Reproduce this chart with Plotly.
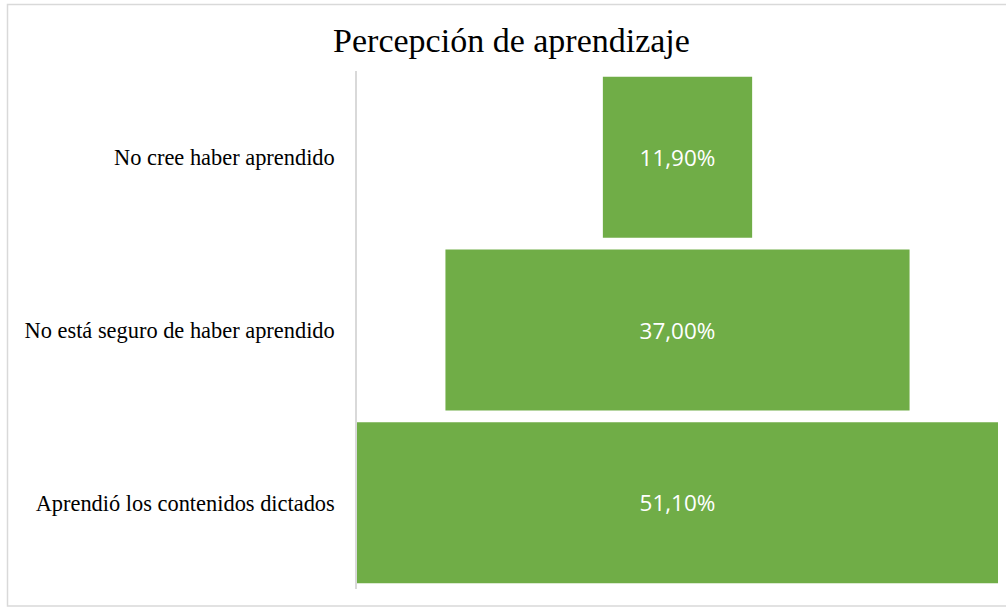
import plotly.graph_objects as go

# Funnel stages (top to bottom) and their shares in percent
categories = [
    "No cree haber aprendido",
    "No está seguro de haber aprendido",
    "Aprendió los contenidos dictados",
]
shares = [11.9, 37.0, 51.1]
share_labels = [f"{v:.2f}%".replace(".", ",") for v in shares]

GREEN = "#70AD47"
half = max(shares) / 2

fig = go.Figure(
    go.Funnel(
        y=categories,
        x=shares,
        text=share_labels,
        textinfo="text",
        textposition="inside",
        insidetextanchor="middle",
        textfont=dict(family="Open Sans", size=22.5, color="#FFFFFF"),
        marker=dict(color=GREEN, line=dict(width=0)),
        connector=dict(visible=False),
        hoverinfo="y+text",
    )
)

W, H = 1006, 607
L, R, T, B = 357, 8, 71, 18
pw, ph = W - L - R, H - T - B

fig.update_layout(
    width=W,
    height=H,
    margin=dict(l=L, r=R, t=T, b=B),
    paper_bgcolor="white",
    plot_bgcolor="white",
    funnelgap=0.068,
    showlegend=False,
    title=dict(
        text="Percepción de aprendizaje",
        font=dict(family="Liberation Serif", size=34, color="#000000"),
        xref="container",
        yref="container",
        x=511.5 / W,
        y=1 - 40 / H,
        xanchor="center",
        yanchor="middle",
    ),
    xaxis=dict(
        range=[-half, half],
        visible=False,
        showgrid=False,
        zeroline=False,
        fixedrange=True,
    ),
    yaxis=dict(
        showline=True,
        linecolor="#D9D9D9",
        linewidth=1.5,
        ticks="outside",
        ticklen=16,
        tickcolor="rgba(0,0,0,0)",
        tickfont=dict(family="Liberation Serif", size=22.4, color="#000000"),
        showgrid=False,
        zeroline=False,
    ),
    shapes=[
        # light outer frame of the chart area
        dict(
            type="rect",
            xref="paper",
            yref="paper",
            x0=(7.5 - L) / pw,
            x1=(1012 - L) / pw,
            y0=-(606 - (H - B)) / ph,
            y1=1 + (T - 4.5) / ph,
            line=dict(color="#D9D9D9", width=1.5),
            fillcolor="rgba(0,0,0,0)",
            layer="below",
        )
    ],
)

fig.write_html("out.html")
